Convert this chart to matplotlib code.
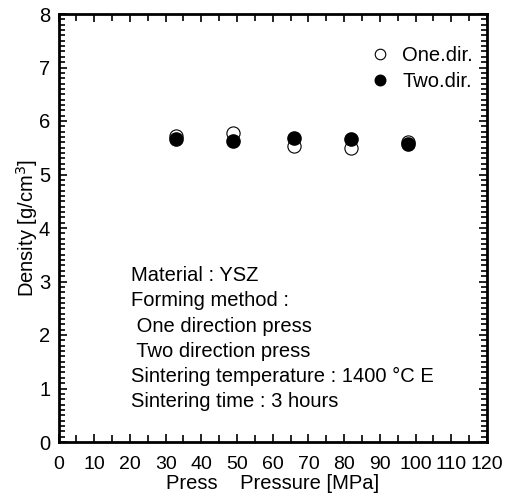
import numpy as np
import matplotlib.pyplot as plt
from matplotlib.ticker import MultipleLocator

plt.rcParams['font.family'] = ['Liberation Sans', 'DejaVu Sans']

# data
pressure = [33, 49, 66, 82, 98]
dens_one = [5.72, 5.78, 5.53, 5.49, 5.60]
dens_two = [5.66, 5.62, 5.68, 5.66, 5.57]

info = ["Material : YSZ",
        "Forming method :",
        " One direction press",
        " Two direction press",
        "Sintering temperature : 1400 \u00b0C E",
        "Sintering time : 3 hours"]

fs = 14.5

fig = plt.figure(figsize=(5.09, 4.93), dpi=100)
ax = fig.add_axes([58.5 / 509, 51 / 493, 428.5 / 509, 428 / 493])

ax.plot(pressure, dens_one, 'o', ms=9.5, mfc='white', mec='black', mew=0.8,
        label='One.dir.', zorder=3)
ax.plot(pressure, dens_two, 'o', ms=9.5, mfc='black', mec='black',
        label='Two.dir.', zorder=4)

ax.set_xlim(0, 120)
ax.set_ylim(0, 8)
ax.xaxis.set_major_locator(MultipleLocator(10))
ax.xaxis.set_minor_locator(MultipleLocator(5))
ax.yaxis.set_major_locator(MultipleLocator(1))
ax.yaxis.set_minor_locator(MultipleLocator(0.1))
ax.tick_params(which='both', direction='in', top=True, right=True,
               labelsize=fs, width=1.2)
ax.tick_params(which='major', length=6)
ax.tick_params(which='minor', length=4)
ax.tick_params(axis='x', which='minor', length=5)
ax.tick_params(axis='x', which='major', pad=10, labelsize=14)
ax.tick_params(axis='y', which='major', pad=6)
for s in ax.spines.values():
    s.set_linewidth(2)

ax.set_xlabel("Press    Pressure [MPa]", fontsize=fs, labelpad=0.5)
ax.set_ylabel("Density [g/cm$^3$]", fontsize=fs, labelpad=-1)

ax.legend(loc='upper right', frameon=False, fontsize=fs, handletextpad=0.1,
          borderaxespad=0.0, labelspacing=0.35, markerscale=0.8,
          bbox_to_anchor=(0.986, 0.945))

for i, line in enumerate(info):
    ax.text(0.169, 0.388 - i * 0.0585, line, transform=ax.transAxes,
            fontsize=fs, va='center', ha='left')

fig.savefig("out.png", dpi=100)
